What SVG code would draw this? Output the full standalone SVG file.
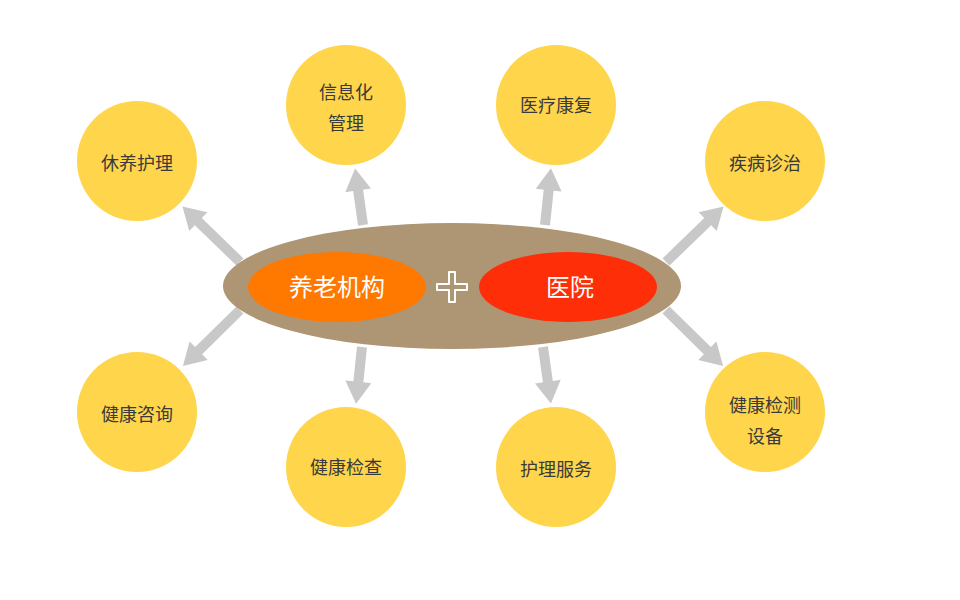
<svg xmlns="http://www.w3.org/2000/svg" xmlns:xlink="http://www.w3.org/1999/xlink" width="960" height="600" viewBox="0 0 960 600">
<style>
.c{fill:#fed54b}
.t{font-family:"Noto Sans CJK SC",sans-serif;font-size:18px;fill:#3a3a3a;text-anchor:middle}
.w{font-family:"Noto Sans CJK SC",sans-serif;font-size:24px;fill:#fff;text-anchor:middle}
.a{fill:#c8c8c8}
</style>
<defs>
<path id="L" class="a" d="M0,-5H58V-13L80,0L58,13V5H0Z"/>
<path id="S" class="a" d="M0,-5H35V-13L57,0L35,13V5H0Z"/>
</defs>
<rect width="960" height="600" fill="#fff"/>
<g id="connectors">
<use xlink:href="#L" transform="translate(240,262) rotate(-136)"/>
<use xlink:href="#L" transform="translate(240,310) rotate(135.5)"/>
<use xlink:href="#S" transform="translate(363,225) rotate(-98)"/>
<use xlink:href="#S" transform="translate(545,225) rotate(-84)"/>
<use xlink:href="#L" transform="translate(666,262) rotate(-44)"/>
<use xlink:href="#L" transform="translate(666,310) rotate(44.5)"/>
<use xlink:href="#S" transform="translate(362,347) rotate(96)"/>
<use xlink:href="#S" transform="translate(543,347) rotate(82)"/>
</g>
<g id="center">
<ellipse cx="452" cy="286" rx="229" ry="63" fill="#ae9574"/>
<ellipse cx="337" cy="287" rx="89" ry="35" fill="#ff7800"/>
<text class="w" x="337" y="296">养老机构</text>
<ellipse cx="568" cy="287" rx="89" ry="35" fill="#fd2e08"/>
<text class="w" x="570" y="296">医院</text>
<path d="M449,272h6v12h12v6h-12v12h-6v-12h-12v-6h12z" fill="#ae9574" stroke="#fff" stroke-width="2" stroke-linejoin="round"/>
</g>
<g id="n1"><circle class="c" cx="137" cy="161" r="60"/><text class="t" x="137" y="170">休养护理</text></g>
<g id="n2"><circle class="c" cx="346" cy="105" r="60"/><text class="t" x="346" y="99">信息化</text><text class="t" x="346" y="130">管理</text></g>
<g id="n3"><circle class="c" cx="556" cy="105" r="60"/><text class="t" x="556" y="112">医疗康复</text></g>
<g id="n4"><circle class="c" cx="765" cy="161" r="60"/><text class="t" x="765" y="170">疾病诊治</text></g>
<g id="n5"><circle class="c" cx="137" cy="412" r="60"/><text class="t" x="137" y="421">健康咨询</text></g>
<g id="n6"><circle class="c" cx="346" cy="467" r="60"/><text class="t" x="346" y="474">健康检查</text></g>
<g id="n7"><circle class="c" cx="556" cy="467" r="60"/><text class="t" x="556" y="476">护理服务</text></g>
<g id="n8"><circle class="c" cx="765" cy="412" r="60"/><text class="t" x="765" y="412">健康检测</text><text class="t" x="765" y="443">设备</text></g>
</svg>
